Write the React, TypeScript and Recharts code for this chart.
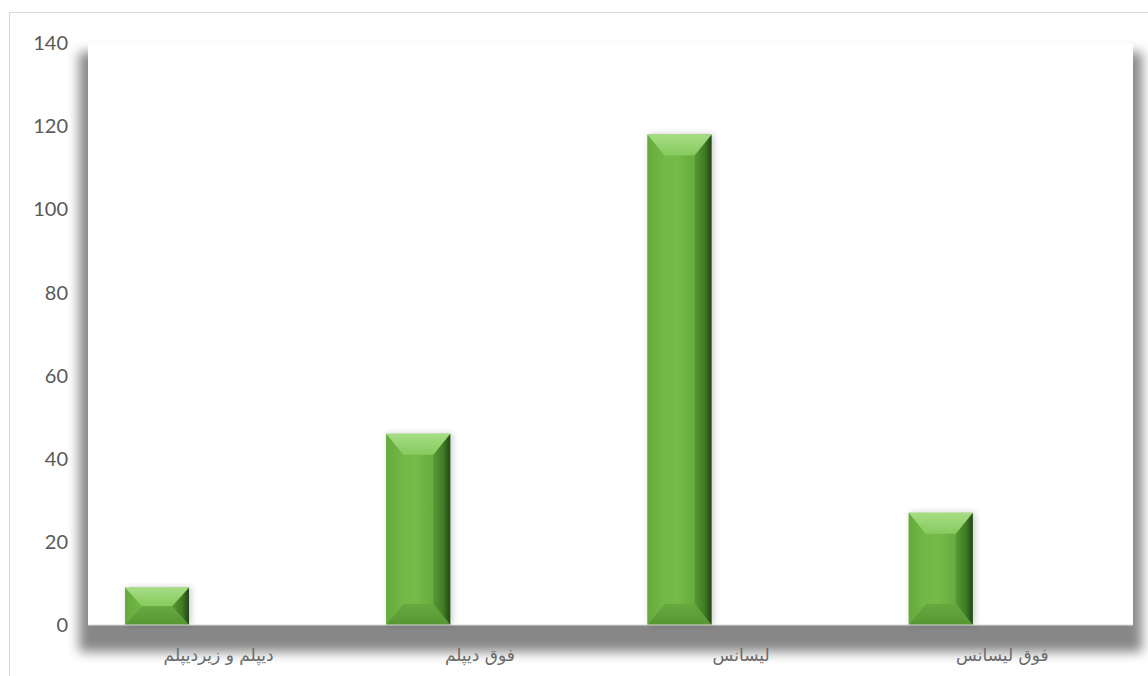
import { Bar, BarChart, CartesianGrid, XAxis, YAxis } from "recharts"

const categories = ["دیپلم و زیردیپلم", "فوق دیپلم", "لیسانس", "فوق لیسانس"]
const counts = [9, 46, 118, 27]
const yTicks = [0, 20, 40, 60, 80, 100, 120, 140]

const data = categories.map((name, i) => ({ name, count: counts[i] }))

// bevelled bar, drawn in the first slot of the cluster like the Excel original
const BevelBar = (props: any) => {
  const { x, y, width, height } = props
  if (!height || height <= 0) return null
  const L = x - width + 2
  const R = L + width
  const T = y
  const B = y + height
  const bx = Math.min(17, width / 2)
  const by = Math.min(21, height / 2)
  const iL = L + bx
  const iR = R - bx
  const iT = T + by
  const iB = B - by
  return (
    <g filter="url(#barShadow)">
      <rect x={L} y={T} width={width} height={height} fill="url(#faceGrad)" />
      <polygon points={`${L},${T} ${iL},${iT} ${iL},${iB} ${L},${B}`} fill="url(#leftGrad)" />
      <polygon points={`${R},${T} ${iR},${iT} ${iR},${iB} ${R},${B}`} fill="url(#rightGrad)" />
      <polygon points={`${L},${T} ${R},${T} ${iR},${iT} ${iL},${iT}`} fill="url(#topGrad)" />
      <polygon points={`${L},${B} ${R},${B} ${iR},${iB} ${iL},${iB}`} fill="url(#bottomGrad)" />
    </g>
  )
}

const CategoryTick = (props: any) => {
  const { x, y, payload } = props
  return (
    <text
      x={x}
      y={y}
      dy={15}
      textAnchor="middle"
      fill="#6a6a6a"
      fontSize={17}
      fontFamily="'DejaVu Sans', sans-serif"
      direction="rtl"
    >
      {payload.value}
    </text>
  )
}

export default function App() {
  return (
    <div
      style={{
        position: "absolute",
        left: 9,
        top: 12,
        width: 1180,
        height: 700,
        border: "1px solid #d9d9d9",
        background: "#fff",
      }}
    >
      <style>{`.recharts-cartesian-grid-bg { filter: url(#plotShadow); }`}</style>
      <BarChart
        width={1160}
        height={680}
        data={data}
        margin={{ top: 30, right: 37, bottom: 0, left: 0 }}
      >
        <defs>
          <filter id="plotShadow" x="-5%" y="-10%" width="110%" height="130%">
            <feMorphology in="SourceAlpha" operator="dilate" radius="9" result="d" />
            <feOffset in="d" dx="0" dy="18" result="o" />
            <feGaussianBlur in="o" stdDeviation="6" result="b" />
            <feFlood floodColor="#000" floodOpacity="0.47" />
            <feComposite in2="b" operator="in" result="s" />
            <feMerge>
              <feMergeNode in="s" />
              <feMergeNode in="SourceGraphic" />
            </feMerge>
          </filter>
          <filter id="barShadow" x="-30%" y="-10%" width="160%" height="120%">
            <feGaussianBlur in="SourceAlpha" stdDeviation="3" />
            <feOffset dx="2" dy="0" result="b" />
            <feFlood floodColor="#000" floodOpacity="0.2" />
            <feComposite in2="b" operator="in" result="s" />
            <feMerge>
              <feMergeNode in="s" />
              <feMergeNode in="SourceGraphic" />
            </feMerge>
          </filter>
          <linearGradient id="faceGrad" x1="0" y1="0" x2="1" y2="0">
            <stop offset="0%" stopColor="#6cb342" />
            <stop offset="45%" stopColor="#74bb49" />
            <stop offset="100%" stopColor="#5a9f35" />
          </linearGradient>
          <linearGradient id="leftGrad" x1="0" y1="0" x2="1" y2="0">
            <stop offset="0%" stopColor="#64aa3c" />
            <stop offset="100%" stopColor="#72b947" />
          </linearGradient>
          <linearGradient id="rightGrad" x1="0" y1="0" x2="1" y2="0">
            <stop offset="0%" stopColor="#579a33" />
            <stop offset="60%" stopColor="#407b24" />
            <stop offset="100%" stopColor="#22461a" />
          </linearGradient>
          <linearGradient id="topGrad" x1="0" y1="0" x2="0" y2="1">
            <stop offset="0%" stopColor="#a6dd84" />
            <stop offset="100%" stopColor="#86ca5e" />
          </linearGradient>
          <linearGradient id="bottomGrad" x1="0" y1="0" x2="0" y2="1">
            <stop offset="0%" stopColor="#67a93f" />
            <stop offset="100%" stopColor="#569633" />
          </linearGradient>
        </defs>
        <CartesianGrid horizontal={false} vertical={false} fill="#ffffff" />
        <XAxis
          dataKey="name"
          height={68}
          tickSize={0}
          tickMargin={21}
          axisLine={{ stroke: "#d9d9d9" }}
          tick={<CategoryTick />}
        />
        <YAxis
          width={78}
          domain={[0, 140]}
          ticks={yTicks}
          tickSize={0}
          tickMargin={20}
          axisLine={false}
          tick={{ fill: "#595959", fontSize: 20, fontFamily: "Lato, sans-serif" }}
        />
        <Bar
          dataKey="count"
          barSize={64}
          shape={<BevelBar />}
          isAnimationActive={false}
        />
      </BarChart>
    </div>
  )
}
